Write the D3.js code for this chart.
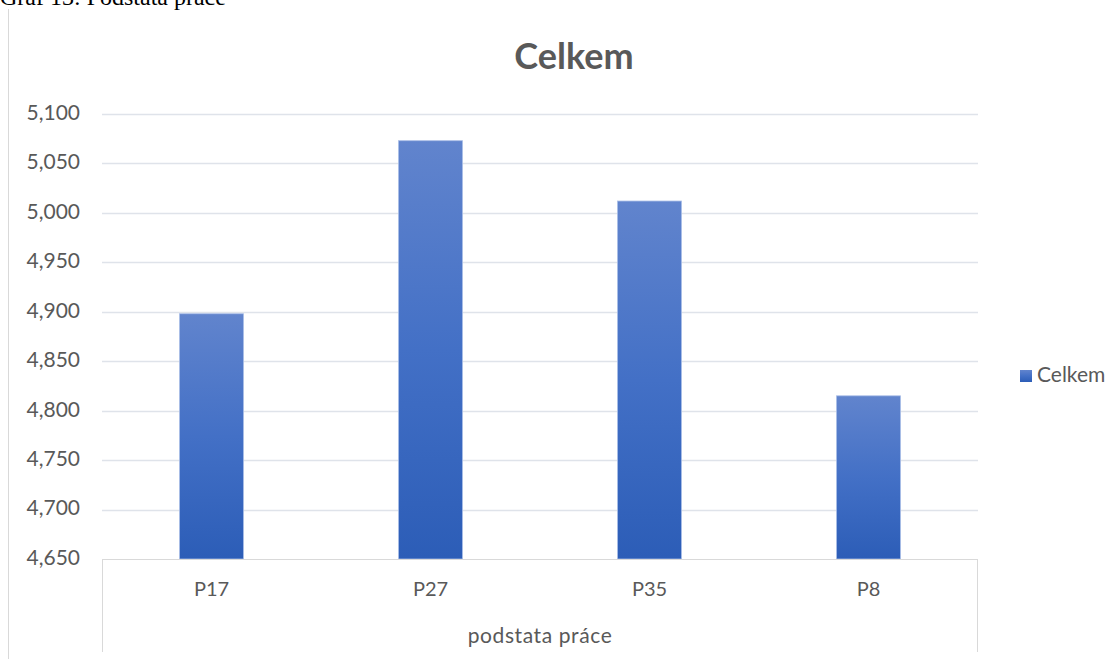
<!DOCTYPE html>
<html>
<head>
<meta charset="utf-8">
<script src="https://cdn.jsdelivr.net/npm/d3@7"></script>
<style>
  html, body { margin: 0; padding: 0; background: #fff; }
  svg { display: block; }
</style>
</head>
<body>
<svg id="chart" width="1108" height="659"></svg>
<script>
// Data
const categories = ["P17", "P27", "P35", "P8"];
const values = [4898, 5073, 5012, 4815];
const yTicks = [4650, 4700, 4750, 4800, 4850, 4900, 4950, 5000, 5050, 5100];
const seriesName = "Celkem";
const chartTitle = "Celkem";
const axisTitle = "podstata práce";
const caption = "Graf 13: Podstata práce";

const svg = d3.select("#chart");
const W = 1108, H = 659;
const plot = { left: 102, right: 978, top: 114, bottom: 559 };
const labelFont = "Lato, 'Open Sans', sans-serif";
const textColor = "#595959";

// caption above the chart frame (partly cut by the top edge)
svg.append("text")
  .attr("x", 0).attr("y", 5)
  .attr("font-family", "'Liberation Serif', 'Times New Roman', serif")
  .attr("font-size", 24)
  .attr("fill", "#000")
  .text(caption);

// chart frame left edge
svg.append("line")
  .attr("x1", 8.5).attr("x2", 8.5).attr("y1", 9).attr("y2", H)
  .attr("stroke", "#d9d9d9").attr("stroke-width", 1);

const x = d3.scaleBand().domain(categories).range([plot.left, plot.right]).padding(0);
const y = d3.scaleLinear().domain([4650, 5100]).range([plot.bottom, plot.top]);

// gradient for bars
const defs = svg.append("defs");
const grad = defs.append("linearGradient")
  .attr("id", "barGrad").attr("x1", 0).attr("y1", 0).attr("x2", 0).attr("y2", 1);
grad.append("stop").attr("offset", "0%").attr("stop-color", "#6184cd");
grad.append("stop").attr("offset", "50%").attr("stop-color", "#4370c6");
grad.append("stop").attr("offset", "100%").attr("stop-color", "#2c5db7");

// gridlines
svg.append("g")
  .selectAll("line")
  .data(yTicks.filter(t => t !== 4650))
  .join("line")
  .attr("x1", plot.left).attr("x2", plot.right)
  .attr("y1", d => Math.round(y(d)) + 0.5).attr("y2", d => Math.round(y(d)) + 0.5)
  .attr("stroke", "#dfe3ea").attr("stroke-width", 1.5);

// y axis labels
const yAxis = d3.axisLeft(y).tickValues(yTicks).tickSize(0).tickPadding(0)
  .tickFormat(d3.format(",.0f"));
const yg = svg.append("g").attr("transform", `translate(80,-2)`).call(yAxis);
yg.select(".domain").remove();
yg.selectAll("text")
  .attr("font-family", labelFont).attr("font-size", 21)
  .attr("fill", textColor).attr("dy", "0.35em");

// bars
const barW = x.bandwidth() * 0.292;
svg.append("g")
  .selectAll("rect")
  .data(categories.map((c, i) => ({ c, v: values[i] })))
  .join("rect")
  .attr("x", d => x(d.c) + (x.bandwidth() - barW) / 2)
  .attr("y", d => y(d.v))
  .attr("width", barW)
  .attr("height", d => y(4650) - y(d.v))
  .attr("fill", "url(#barGrad)")
  .attr("stroke", "#a9bde6").attr("stroke-width", 0.8);

// category axis box
const axisBox = svg.append("g").attr("fill", "none").attr("stroke", "#d9d9d9").attr("stroke-width", 1);
axisBox.append("line").attr("x1", plot.left).attr("x2", plot.right)
  .attr("y1", plot.bottom + 0.5).attr("y2", plot.bottom + 0.5);
axisBox.append("line").attr("x1", plot.left + 0.5).attr("x2", plot.left + 0.5)
  .attr("y1", plot.bottom).attr("y2", 652);
axisBox.append("line").attr("x1", plot.right - 0.5).attr("x2", plot.right - 0.5)
  .attr("y1", plot.bottom).attr("y2", 652);

const xAxis = d3.axisBottom(x).tickSize(0).tickPadding(0);
const xg = svg.append("g").attr("transform", `translate(0,596)`).call(xAxis);
xg.select(".domain").remove();
xg.selectAll("text")
  .attr("font-family", labelFont).attr("font-size", 20)
  .attr("fill", textColor).attr("dy", 0);

// axis title
svg.append("text")
  .attr("x", (plot.left + plot.right) / 2).attr("y", 643)
  .attr("text-anchor", "middle")
  .attr("font-family", labelFont).attr("font-size", 21)
  .attr("letter-spacing", 0.6)
  .attr("fill", textColor)
  .text(axisTitle);

// chart title
svg.append("text")
  .attr("x", 574).attr("y", 69)
  .attr("text-anchor", "middle")
  .attr("font-family", labelFont).attr("font-size", 36).attr("font-weight", "bold")
  .attr("fill", textColor)
  .text(chartTitle);

// legend
const lg = svg.append("g").attr("transform", "translate(1020,370)");
lg.append("rect").attr("width", 12).attr("height", 12).attr("fill", "url(#barGrad)");
lg.append("text").attr("x", 17).attr("y", 12)
  .attr("font-family", labelFont).attr("font-size", 21)
  .attr("fill", textColor)
  .text(seriesName);
</script>
</body>
</html>
